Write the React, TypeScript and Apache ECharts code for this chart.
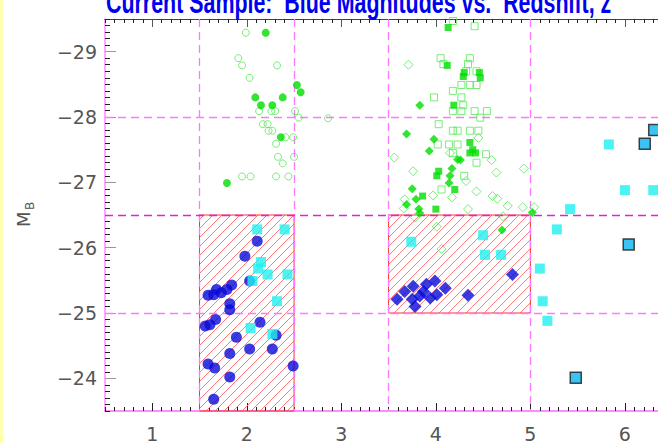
import React, { useEffect, useRef } from 'react';
import * as echarts from 'echarts';

const titleText = 'Current Sample:  Blue Magnitudes vs.  Redshift, z';
const xTickLabels = [1, 2, 3, 4, 5, 6];
const yTickLabels = [-29, -28, -27, -26, -25, -24];
const verticalGuides = [1.5, 2.5, 3.5, 5.0];
const horizontalGuides = [-28, -25];
const brightLimit = [-26.5];
const hatchBoxes = [
  [1.5, -26.5, 2.5, -23.5],
  [3.5, -26.5, 5.0, -25.0],
];

const greenOpenCircles = [
  [1.99, -29.29], [1.91, -28.9], [1.95, -28.79], [2.32, -28.79], [2.03, -28.6],
  [2.13, -28.09], [2.26, -28.09], [2.3, -28.09], [2.51, -28.09], [2.55, -27.99],
  [2.86, -27.98], [2.17, -27.89], [2.22, -27.89], [2.23, -27.79], [2.27, -27.79],
  [2.41, -27.69], [2.49, -27.69], [2.31, -27.59], [2.33, -27.39], [2.38, -27.29],
  [2.5, -27.39], [1.95, -27.09], [2.04, -27.09], [2.31, -27.09], [2.44, -27.09],
];
const greenFilledCircles = [
  [2.2, -29.29], [2.53, -28.49], [2.57, -28.38], [2.09, -28.3], [2.38, -28.3],
  [2.15, -28.18], [2.27, -28.18], [2.36, -27.69], [1.79, -26.99],
];
const greenOpenSquares = [
  [4.18, -29.47], [4.41, -29.39], [4.05, -28.9], [4.08, -28.81], [4.36, -28.9],
  [4.34, -28.81], [4.32, -28.7], [4.43, -28.7], [4.27, -28.49], [4.36, -28.49],
  [4.43, -28.49], [4.18, -28.4], [3.98, -28.3], [4.27, -28.3], [4.29, -28.18],
  [4.18, -28.09], [4.27, -28.09], [4.41, -28.09], [4.54, -28.09], [4.47, -27.99],
  [4.03, -27.89], [4.18, -27.79], [4.23, -27.79], [4.36, -27.79], [4.45, -27.79],
  [4.02, -27.58], [4.14, -27.58], [4.23, -27.58], [4.18, -27.45], [4.53, -27.43],
  [4.43, -27.3], [4.3, -27.1], [4.06, -26.89],
];
const greenFilledSquares = [
  [4.13, -29.37], [4.12, -28.79], [4.3, -28.68], [4.29, -28.62], [4.46, -28.68],
  [4.47, -28.6], [4.19, -28.18], [4.36, -27.61], [4.39, -27.5], [4.42, -27.45],
  [4.36, -27.45], [4.03, -27.17], [4.01, -27.1], [4.2, -26.89], [3.86, -26.79],
  [4.0, -26.59],
];
const greenOpenDiamonds = [
  [3.71, -28.8], [4.45, -27.68], [3.56, -27.38], [4.15, -27.45], [4.59, -27.34],
  [3.76, -27.17], [4.64, -27.15], [4.93, -27.21], [4.32, -27.02], [4.43, -26.86],
  [3.97, -26.8], [4.17, -26.77], [4.6, -26.79], [4.65, -26.75], [3.67, -26.74],
  [4.76, -26.64], [4.92, -26.62], [5.04, -26.62], [3.66, -26.6], [4.34, -26.59],
  [3.78, -26.46], [4.71, -26.48], [4.01, -26.32], [4.06, -25.98],
];
const greenFilledDiamonds = [
  [3.83, -28.18], [3.69, -27.74], [3.98, -27.66], [3.93, -27.48], [4.23, -27.35],
  [4.26, -27.34], [4.17, -27.21], [4.15, -27.1], [4.14, -26.99], [3.75, -26.9],
  [3.79, -26.74], [3.69, -26.66], [3.82, -26.59], [3.83, -26.53], [5.02, -26.54],
  [4.7, -26.27],
];
const blueCircles = [
  [2.11, -26.1], [1.98, -25.87], [2.03, -25.49], [1.59, -25.27], [1.65, -25.28],
  [1.68, -25.36], [1.73, -25.31], [1.79, -25.36], [1.84, -25.43], [1.82, -25.14],
  [1.82, -25.05], [1.56, -24.8], [1.61, -24.82], [1.67, -24.9], [2.14, -24.86],
  [1.89, -24.63], [2.31, -24.66], [1.82, -24.38], [2.03, -24.45], [2.27, -24.45],
  [1.59, -24.22], [1.66, -24.16], [2.49, -24.19], [1.82, -24.02], [1.65, -23.68],
];
const blueDiamonds = [
  [3.59, -25.21], [3.67, -25.33], [3.75, -25.21], [3.76, -25.41], [3.78, -25.1],
  [3.83, -25.26], [3.87, -25.33], [3.9, -25.44], [3.94, -25.23], [3.99, -25.49],
  [4.01, -25.28], [4.1, -25.38], [4.34, -25.27], [4.81, -25.59],
];
const cyanSquares = [
  [2.11, -26.28], [2.4, -26.28], [2.15, -25.78], [2.12, -25.68], [2.22, -25.59],
  [2.43, -25.59], [2.06, -25.49], [2.32, -25.18], [2.04, -24.77], [2.27, -24.68],
  [3.74, -26.09], [4.5, -26.19], [4.52, -25.89], [4.69, -25.89], [5.1, -25.68],
  [5.13, -25.18], [5.18, -24.88], [5.28, -26.28], [5.42, -26.59], [5.83, -27.58],
  [6.0, -26.88], [6.3, -26.88],
];
const outlinedSquares = [
  [5.48, -24.01], [6.04, -26.05], [6.21, -27.59], [6.31, -27.8],
];

const xMinorTicks: number[] = [];
for (let i = 5; i <= 63; i++) xMinorTicks.push(i / 10);
const yMinorTicks: number[] = [];
for (let i = -295; i <= -235; i++) yMinorTicks.push(i / 10);

const labelFont = { color: '#555', fontSize: 19, fontFamily: 'DejaVu Sans' };

function buildOption() {
  const xBase = { type: 'value', min: 0.5, max: 6.35, splitLine: { show: false }, gridIndex: 0 };
  const yBase = { type: 'value', min: -29.5, max: -23.5, inverse: true, splitLine: { show: false }, gridIndex: 0, position: 'left' };
  const green = '#00dd00';
  const greenLight = '#55e855';
  const scatter = (data: number[][], symbol: string, size: number, itemStyle: any) => ({
    type: 'scatter', data, symbol, symbolSize: size, itemStyle, z: 3,
    xAxisIndex: 0, yAxisIndex: 0, silent: true,
  });
  return {
    animation: false,
    backgroundColor: '#ffffff',
    grid: { left: 105, top: 19, right: 0, bottom: 31.5, containLabel: false },
    xAxis: [
      {
        ...xBase, position: 'bottom',
        axisLine: { show: true, onZero: false, lineStyle: { color: '#ff66ff', width: 1.5 } },
        axisTick: { show: true, inside: true, length: 4, customValues: xMinorTicks, lineStyle: { color: '#222' } },
        axisLabel: { show: true, customValues: xTickLabels, margin: 13, ...labelFont },
      },
      {
        ...xBase, position: 'bottom',
        axisLine: { show: false, onZero: false },
        axisTick: { show: true, inside: true, length: 8, customValues: xTickLabels, lineStyle: { color: '#222' } },
        axisLabel: { show: false },
      },
      {
        ...xBase, position: 'top',
        axisLine: { show: true, onZero: false, lineStyle: { color: '#444', width: 1 } },
        axisTick: { show: true, inside: true, length: 4, customValues: xMinorTicks, lineStyle: { color: '#222' } },
        axisLabel: { show: false },
      },
      {
        ...xBase, position: 'top',
        axisLine: { show: false, onZero: false },
        axisTick: { show: true, inside: true, length: 8, customValues: xTickLabels, lineStyle: { color: '#555' } },
        axisLabel: { show: false },
      },
    ],
    yAxis: [
      {
        ...yBase,
        axisLine: { show: true, onZero: false, lineStyle: { color: '#ff88ff', width: 1.5 } },
        axisTick: { show: true, inside: true, length: 5, customValues: yMinorTicks, lineStyle: { color: '#222' } },
        axisLabel: {
          show: true, customValues: yTickLabels, margin: 8, ...labelFont,
          formatter: (v: number) => '\u2212' + Math.abs(Math.round(v)),
        },
      },
      {
        ...yBase,
        axisLine: { show: false, onZero: false },
        axisTick: { show: true, inside: true, length: 11, customValues: yTickLabels, lineStyle: { color: '#999' } },
        axisLabel: { show: false },
      },
    ],
    graphic: [
      { type: 'rect', left: 0, top: 0, shape: { width: 3, height: 443 }, style: { fill: '#ffffb0' }, z: 100 },
      {
        type: 'text', x: 106, y: 2, scaleX: 1.07, scaleY: 1.6,
        style: { text: titleText, font: 'bold 20px "Liberation Sans", Arial, sans-serif', fill: '#0000f0', verticalAlign: 'middle', align: 'left' },
        z: 100,
      },
      {
        type: 'group', x: 23.5, y: 227, rotation: Math.PI / 2, z: 100,
        children: [
          { type: 'text', x: 0, y: 0, style: { text: 'M', fontSize: 18, fontFamily: 'DejaVu Sans', fill: '#555', verticalAlign: 'middle', align: 'left' } },
          { type: 'text', x: 17, y: 6, style: { text: 'B', fontSize: 12, fontFamily: 'DejaVu Sans', fill: '#555', verticalAlign: 'middle', align: 'left' } },
        ],
      },
    ],
    series: [
      {
        type: 'custom', xAxisIndex: 0, yAxisIndex: 0, z: 1, silent: true,
        data: hatchBoxes,
        encode: { x: [0, 2], y: [1, 3] },
        renderItem: (params: any, api: any) => {
          const a = api.coord([api.value(0), api.value(1)]);
          const b = api.coord([api.value(2), api.value(3)]);
          const L = Math.min(a[0], b[0]);
          const R = Math.max(a[0], b[0]);
          const T = Math.min(a[1], b[1]);
          const B = Math.max(a[1], b[1]);
          const children: any[] = [];
          const step = 9;
          for (let c = L + T + step / 2; c < R + B; c += step) {
            const xa = Math.max(L, c - B);
            const xb = Math.min(R, c - T);
            if (xb > xa) {
              children.push({ type: 'line', shape: { x1: xa, y1: c - xa, x2: xb, y2: c - xb }, style: { stroke: '#ff7777', lineWidth: 1 } });
            }
          }
          children.push({ type: 'rect', shape: { x: L, y: T, width: R - L, height: B - T }, style: { fill: 'none', stroke: '#ff3333', lineWidth: 1 } });
          return { type: 'group', children };
        },
        markLine: {
          silent: true, symbol: ['none', 'none'], label: { show: false }, z: 2, animation: false,
          data: [
            ...verticalGuides.map((v) => ({ xAxis: v, lineStyle: { color: '#ff77ff', type: [8, 5], width: 1.3 } })),
            ...horizontalGuides.map((v) => ({ yAxis: v, lineStyle: { color: '#ff77ff', type: [8, 5], width: 1.3 } })),
            ...brightLimit.map((v) => ({ yAxis: v, lineStyle: { color: '#dd22dd', type: [8, 5], width: 1.3 } })),
          ],
        },
      },
      scatter(greenOpenCircles, 'circle', 7, { color: 'rgba(0,0,0,0)', borderColor: greenLight, borderWidth: 1 }),
      scatter(greenOpenSquares, 'rect', 7, { color: 'rgba(0,0,0,0)', borderColor: greenLight, borderWidth: 1 }),
      scatter(greenOpenDiamonds, 'diamond', 9, { color: 'rgba(0,0,0,0)', borderColor: greenLight, borderWidth: 1 }),
      scatter(greenFilledCircles, 'circle', 8, { color: green }),
      scatter(greenFilledSquares, 'rect', 7, { color: green }),
      scatter(greenFilledDiamonds, 'diamond', 9, { color: green }),
      scatter(blueCircles, 'circle', 11, { color: '#0a0ad8' }),
      scatter(blueDiamonds, 'diamond', 13, { color: '#0a0ad8' }),
      scatter(cyanSquares, 'rect', 10, { color: '#1ef0f0' }),
      scatter(outlinedSquares, 'rect', 11, { color: '#0ab4f0', borderColor: '#1a1a1a', borderWidth: 1.5 }),
    ],
  };
}

export default function App() {
  const ref = useRef<HTMLDivElement>(null);
  useEffect(() => {
    if (!ref.current) return;
    const chart = echarts.init(ref.current, null, { renderer: 'svg' });
    chart.setOption(buildOption() as any);
    return () => chart.dispose();
  }, []);
  return (
    <div
      ref={ref}
      style={{ position: 'absolute', left: 0, top: 0, width: 658, height: 443, background: '#fff' }}
    />
  );
}
